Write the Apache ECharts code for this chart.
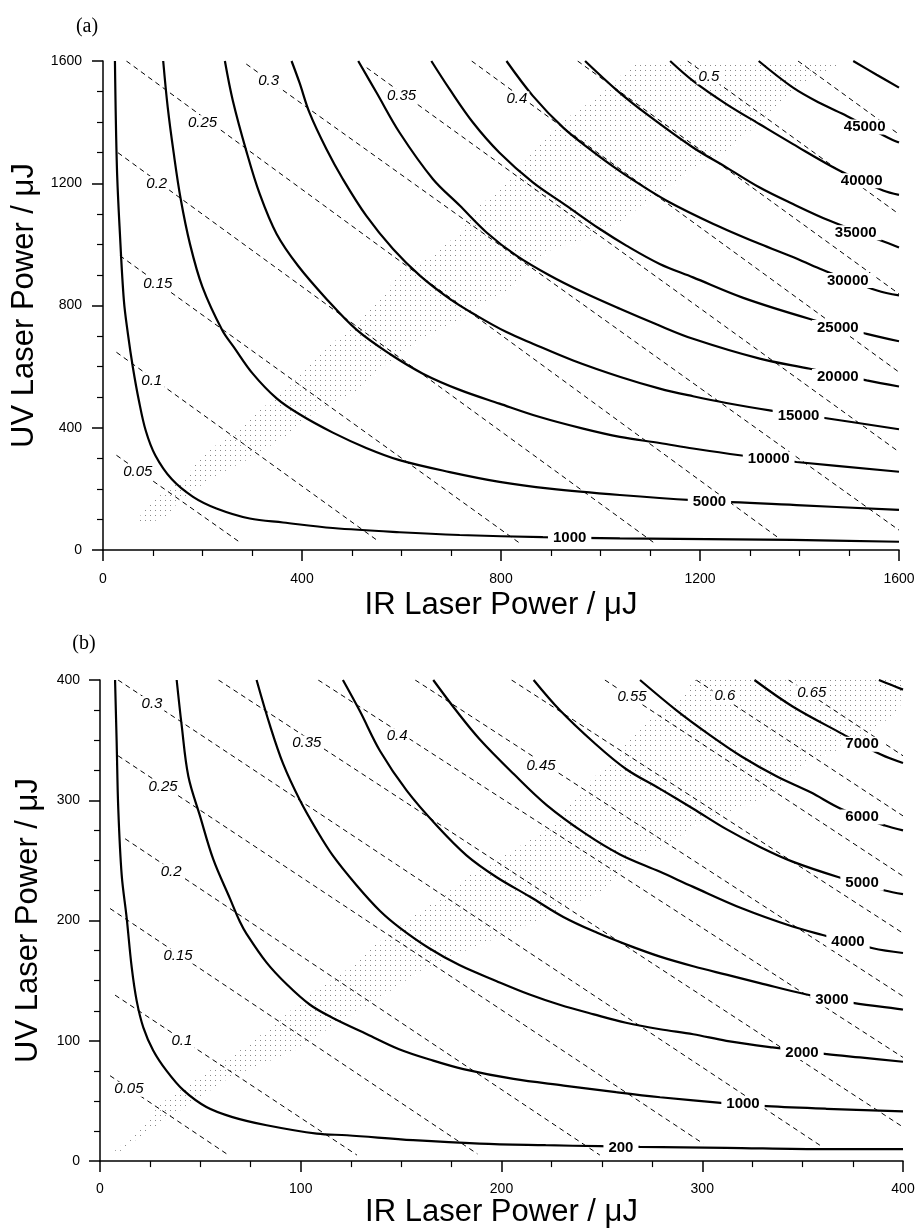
<!DOCTYPE html>
<html><head><meta charset="utf-8">
<script src="https://cdn.jsdelivr.net/npm/echarts@6/dist/echarts.min.js"></script>
<style>html,body{margin:0;padding:0;background:#fff}#c{width:919px;height:1229px}</style>
</head><body><div id="c"></div>
<script>
// ---------------- DATA: panel (a) ----------------
const xTicksA = [0, 400, 800, 1200, 1600];
const yTicksA = [0, 400, 800, 1200, 1600];

const a1000 = [[24,1600],[28,1250],[34,1035],[42,816],[50,708],[60,598],[72,490],[86,390],[105,310],[138,232],[181,174],[228,136],[295,103],[362,90],[462,72],[596,58],[717,49],[884,42],[1039,38],[1386,33],[1600,27]];
const a5000 = [[121,1600],[130,1450],[142,1300],[156,1150],[175,1000],[200,860],[240,718],[263,664],[301,577],[349,496],[395,444],[462,384],[529,334],[596,294],[697,255],[797,223],[898,201],[1039,180],[1186,163],[1394,147],[1600,131]];
const a10000 = [[245,1600],[261,1470],[288,1306],[315,1165],[349,1034],[392,930],[450,820],[510,720],[576,642],[643,577],[717,524],[797,479],[878,435],[965,397],[1039,370],[1119,350],[1186,332],[1280,310],[1394,288],[1600,256]];
const a15000 = [[379,1600],[395,1529],[415,1431],[449,1312],[482,1214],[529,1094],[583,985],[637,898],[697,822],[751,767],[811,713],[864,675],[945,620],[1040,566],[1119,528],[1186,503],[1253,481],[1340,457],[1454,431],[1600,395]];
const a20000 = [[513,1600],[550,1496],[596,1366],[663,1214],[717,1127],[771,1039],[831,963],[898,898],[965,843],[1039,789],[1110,740],[1186,691],[1320,626],[1421,593],[1535,555],[1600,535]];
const a25000 = [[660,1600],[697,1507],[744,1398],[797,1300],[864,1203],[932,1126],[998,1051],[1052,996],[1119,936],[1186,892],[1287,825],[1421,756],[1535,707],[1600,683]];
const a30000 = [[811,1600],[864,1486],[925,1382],[979,1311],[1033,1246],[1066,1210],[1133,1143],[1227,1067],[1321,1001],[1388,958],[1441,920],[1556,849],[1600,833]];
const a35000 = [[969,1600],[1033,1504],[1093,1426],[1186,1317],[1253,1252],[1320,1186],[1387,1132],[1461,1077],[1565,1012],[1600,990]];
const a40000 = [[1140,1600],[1186,1535],[1253,1459],[1320,1393],[1387,1328],[1481,1241],[1568,1176],[1600,1162]];
const a45000 = [[1318,1600],[1387,1513],[1445,1459],[1495,1420],[1578,1349],[1600,1333]];
const a50000 = [[1508,1600],[1555,1555],[1600,1513]];
const solidLevelsA = ['1000','5000','10000','15000','20000','25000','30000','35000','40000','45000',''];
const solidCurvesA = [a1000,a5000,a10000,a15000,a20000,a25000,a30000,a35000,a40000,a45000,a50000];

const dashedLevelsA = ['0.05','0.1','0.15','0.2','0.25','0.3','0.35','0.4','0.45','0.5','0.55'];
const dashedLinesA = [
  [[27,310],[278,22]], [[27,647],[550,33]], [[34,963],[838,22]], [[30,1300],[1109,22]],
  [[47,1600],[1355,43]], [[288,1590],[1600,65]], [[530,1578],[1600,321]], [[741,1600],[1600,582]],
  [[954,1600],[1600,838]], [[1175,1600],[1600,1099]], [[1397,1600],[1600,1360]]
];
// shaded (dotted) region outline, panel (a)
const bandA = [[60,82],[100,163],[168,238],[194,304],[261,382],[315,457],[381,545],[436,643],[516,751],[576,859],[596,914],[663,963],[717,1038],[757,1126],[797,1182],[858,1290],[918,1397],[998,1486],[1072,1600],
  [1497,1600],[1400,1525],[1294,1361],[1254,1306],[1186,1250],[1145,1198],[1093,1143],[1053,1087],[998,1035],[898,980],[852,924],[824,859],[757,806],[717,751],[643,695],[596,643],[556,588],[522,532],[462,480],[422,447],[376,382],[301,304],[221,238],[154,163],[128,108],[80,82]];

// ---------------- DATA: panel (b) ----------------
const xTicksB = [0, 100, 200, 300, 400];
const yTicksB = [0, 100, 200, 300, 400];

const b200 = [[7.5,400],[8.3,348],[9.1,293],[10.8,238],[13.3,202],[15.8,161],[18.3,133],[21.6,111],[26.5,92],[33.2,75],[41.5,59],[53,45],[66,36.6],[83,29.8],[108,22.8],[123,21.5],[156,17.4],[189,14.5],[222,13.2],[249,12.4],[269,11.8],[312,11],[362,9.9],[400,9.9]];
const b1000 = [[38.2,400],[40.7,362],[44,320],[49.8,287],[56.4,251],[64.8,218],[69.7,199],[73,189],[83,165],[93,147],[104.6,130],[116,119],[133,105.5],[149,93],[166,83.5],[181,76.5],[206,68.3],[231,62.8],[257,57.3],[279,53.1],[312,48],[332,45.7],[362,43.5],[400,41.3]];
const b2000 = [[78,400],[84.7,362],[91.3,330],[99.6,300],[108,275],[116,254],[128,229],[139.5,208],[149.4,194],[164,177],[179,163],[197.6,149.6],[214,138.5],[229,130],[246,122],[262,115],[279,109.6],[295.5,105.5],[312,100],[335,94.5],[362,89],[378.6,86.2],[400,82.6]];
const b3000 = [[121,400],[129.5,374],[139.5,341],[152.8,308],[167.7,279],[182.7,254],[197.6,236],[214,220],[230.8,203],[247.4,190],[262.3,180],[279,170],[295.5,162],[312,155],[328.7,148],[352,138.5],[375,131.6],[400,126]];
const b4000 = [[166,400],[177.7,374],[189,351],[206,322],[222.5,296],[242,272],[259,255],[279,240.5],[295.5,228],[320,210],[345,195],[360,188],[385,177],[400,173]];
const b5000 = [[216,400],[229,375],[246,348],[262,326],[279,309.5],[295.5,293],[312,276],[329,261],[345,249],[368,236],[391,225],[400,222]];
const b6000 = [[269,400],[287,375],[304,354],[320,336],[337,320],[354,306.6],[369,293],[391,279],[400,275]];
const b7000 = [[326,400],[345,378],[370,355],[389,338],[400,331]];
const b8000 = [[388,400],[394,396],[400,392]];
const solidLevelsB = ['200','1000','2000','3000','4000','5000','6000','7000',''];
const solidCurvesB = [b200,b1000,b2000,b3000,b4000,b5000,b6000,b7000,b8000];

const dashedLevelsB = ['0.05','0.1','0.15','0.2','0.25','0.3','0.35','0.4','0.45','0.5','0.55','0.6','0.65'];
const dashedLinesB = [
  [[5,71],[64,5]], [[7.5,138],[128,5]], [[5,210],[188,6]], [[12.5,268],[249,5]],
  [[9,337],[300.5,14.5]], [[9,400],[358.6,13.2]], [[59,400],[400,28.3]], [[108.7,400],[400,86.2]],
  [[157,400],[400,137]], [[205,400],[400,189.5]], [[251.5,400],[400,237]], [[297,400],[400,287]], [[343,400],[400,337]]
];
const bandB = [[5,5.2],[19.9,25.9],[29.9,47.4],[49.8,69.7],[69.7,92],[87.2,113.5],[102,135.8],[122,158],[137,179.6],[154.4,202],[169.4,218.4],[184.3,238],[199,251.5],[212.7,265.5],[225.6,278.8],[231.6,292.8],[239,307],[246.6,320],[256.5,334],[262.5,348],[269,361],[281.4,375],[291.4,389],[295.3,400],
  [399.5,400],[398.5,375],[387,361],[378.6,348],[353.7,334],[343.7,320],[337,307],[317.3,292.8],[295.4,278.8],[285.4,265.5],[262.5,251.5],[259,237.4],[249,224],[230.6,210],[205.7,191],[179.3,173],[159.4,158],[139.5,135.8],[117,113.5],[97,92],[64.8,69.7],[44.8,47.4],[24.9,25.9],[7.5,5.2]];

// ---------------- LAYOUT (label anchors, in axis units) ----------------
const solidLabelAtA = [[938,39],[1219,157],[1338,297],[1398,438],[1477,568],[1477,728],[1497,882],[1513,1038],[1525,1208],[1531,1384],null];
const dashedLabelAtA = [[70,255],[98,555],[110,872],[108,1199],[200,1398],[333,1535],[600,1486],[832,1476],null,[1218,1548],null];
const solidLabelAtB = [[259.5,11],[320.3,47.4],[349.7,90.3],[364.6,134],[372.6,182],[379.6,231],[379.6,286],[379.6,346.5],null];
const dashedLabelAtB = [[14.4,59.7],[40.8,100.2],[38.9,170.5],[35.4,240.7],[31.4,311],[25.9,380.4],[103,347.7],[148,353.5],[219.7,329],null,[265,386.2],[311.3,387],[354.6,389.5]];

// ---------------- BUILD ----------------
const FONT = '"Liberation Sans", Arial, Helvetica, sans-serif';
function dotPattern(step, color) {
  const c = document.createElement('canvas');
  c.width = step; c.height = step;
  const g = c.getContext('2d');
  g.fillStyle = color; g.fillRect(0, 0, 1, 1);
  return { image: c, repeat: 'repeat' };
}
const series = [];
function addPanel(i, band, solids, sLevels, sAt, dashes, dLevels, dAt) {
  series.push({
    type: 'custom', xAxisIndex: i, yAxisIndex: i, z: 1, silent: true, data: [[0, 0]],
    renderItem: (params, api) => ({
      type: 'polygon',
      shape: { points: band.map(p => api.coord(p)) },
      style: { fill: dotPattern(5, '#8a8a8a') }
    })
  });
  dashes.forEach(d => series.push({
    type: 'line', xAxisIndex: i, yAxisIndex: i, data: d, symbol: 'none', silent: true, z: 2,
    lineStyle: { color: '#000', width: 1, type: [5, 4] }
  }));
  solids.forEach(s => series.push({
    type: 'line', xAxisIndex: i, yAxisIndex: i, data: s, symbol: 'none', silent: true, z: 3,
    smooth: 0.35,
    lineStyle: { color: '#000', width: 2.2 }
  }));
  const sData = [], dData = [];
  sLevels.forEach((t, k) => { if (t && sAt[k]) sData.push({ value: sAt[k], name: t }); });
  dLevels.forEach((t, k) => { if (t && dAt[k]) dData.push({ value: dAt[k], name: t }); });
  series.push({
    type: 'scatter', xAxisIndex: i, yAxisIndex: i, data: dData, symbolSize: 1, silent: true, z: 5,
    itemStyle: { color: '#fff', opacity: 1 },
    label: { show: true, position: 'inside', formatter: '{b}', fontFamily: FONT, fontStyle: 'italic',
      fontSize: 15, color: '#000', opacity: 1, textBorderWidth: 0, backgroundColor: '#fff', padding: [0, 2] }
  });
  series.push({
    type: 'scatter', xAxisIndex: i, yAxisIndex: i, data: sData, symbolSize: 1, silent: true, z: 6,
    itemStyle: { color: '#fff', opacity: 1 },
    label: { show: true, position: 'inside', formatter: '{b}', fontFamily: FONT, fontWeight: 'bold',
      fontSize: 15, color: '#000', opacity: 1, textBorderWidth: 0, backgroundColor: '#fff', padding: [0, 5] }
  });
}
addPanel(0, bandA, solidCurvesA, solidLevelsA, solidLabelAtA, dashedLinesA, dashedLevelsA, dashedLabelAtA);
addPanel(1, bandB, solidCurvesB, solidLevelsB, solidLabelAtB, dashedLinesB, dashedLevelsB, dashedLabelAtB);

function axis(ticks, extra) {
  return Object.assign({
    type: 'value', min: ticks[0], max: ticks[ticks.length - 1], interval: ticks[1] - ticks[0],
    offset: 3,
    axisLine: { show: true, lineStyle: { color: '#000', width: 1.5 } },
    axisTick: { show: true, length: 11, lineStyle: { color: '#000', width: 1.5 } },
    minorTick: { show: true, splitNumber: 4, length: 6, lineStyle: { color: '#000', width: 1.2 } },
    splitLine: { show: false }, minorSplitLine: { show: false },
    nameLocation: 'middle',
    nameTextStyle: { fontFamily: FONT, fontSize: 31, color: '#000', verticalAlign: 'middle' }
  }, extra);
}
const lbl = (m) => ({ color: '#000', fontSize: 14, fontFamily: FONT, margin: m, formatter: v => String(v) });

const option = {
  animation: false,
  backgroundColor: '#fff',
  grid: [
    { left: 103, top: 61, width: 796, height: 489 },
    { left: 100, top: 680, width: 803, height: 484 }
  ],
  xAxis: [
    axis(xTicksA, { gridIndex: 0, name: 'IR Laser Power / μJ', nameGap: 52, axisLabel: lbl(19) }),
    axis(xTicksB, { gridIndex: 1, name: 'IR Laser Power / μJ', nameGap: 48, axisLabel: lbl(18) })
  ],
  yAxis: [
    axis(yTicksA, { gridIndex: 0, name: 'UV Laser Power / μJ', nameGap: 75, nameRotate: 90, axisLabel: lbl(18) }),
    axis(yTicksB, { gridIndex: 1, name: 'UV Laser Power / μJ', nameGap: 69, nameRotate: 90, axisLabel: lbl(17) })
  ],
  graphic: [
    { type: 'text', x: 87, y: 27, style: { text: '(a)', font: '20px "Liberation Serif", "Times New Roman", serif', fill: '#000', align: 'center', verticalAlign: 'middle' } },
    { type: 'text', x: 84, y: 644, style: { text: '(b)', font: '20px "Liberation Serif", "Times New Roman", serif', fill: '#000', align: 'center', verticalAlign: 'middle' } }
  ],
  series: series
};
const chart = echarts.init(document.getElementById('c'), null, { renderer: 'canvas' });
chart.setOption(option);
</script></body></html>
